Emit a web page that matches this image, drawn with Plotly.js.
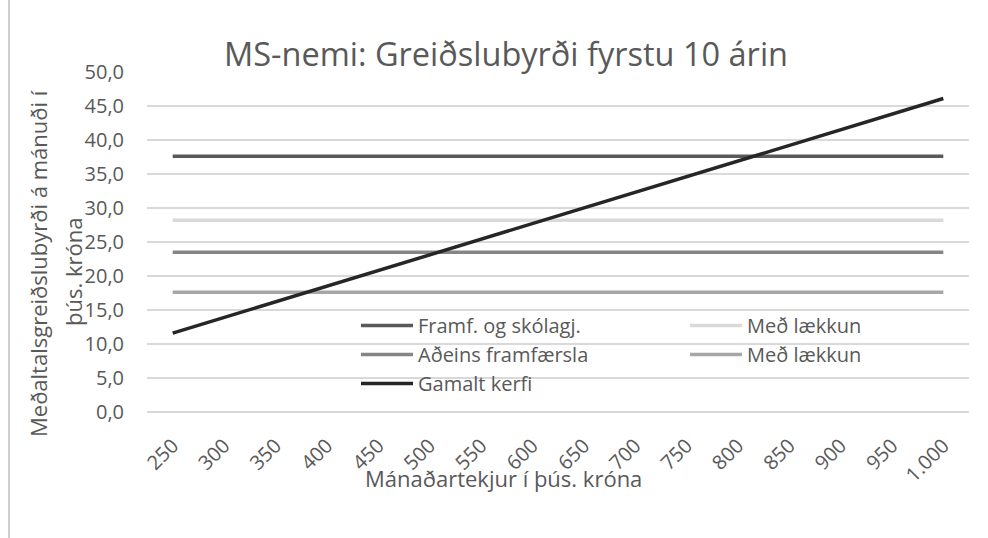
<!DOCTYPE html>
<html>
<head>
<meta charset="utf-8">
<script src="https://cdn.plot.ly/plotly-3.0.1.min.js"></script>
<style>html,body{margin:0;padding:0;background:#fff;}#chart{width:988px;height:538px;}</style>
</head>
<body>
<div id="chart"></div>
<script>
// Data
var incomeLabels = ['250','300','350','400','450','500','550','600','650','700','750','800','850','900','950','1.000'];
var framfOgSkolagj = [37.6,37.6,37.6,37.6,37.6,37.6,37.6,37.6,37.6,37.6,37.6,37.6,37.6,37.6,37.6,37.6];
var medLaekkun1 = [28.2,28.2,28.2,28.2,28.2,28.2,28.2,28.2,28.2,28.2,28.2,28.2,28.2,28.2,28.2,28.2];
var adeinsFramfaersla = [23.5,23.5,23.5,23.5,23.5,23.5,23.5,23.5,23.5,23.5,23.5,23.5,23.5,23.5,23.5,23.5];
var medLaekkun2 = [17.6,17.6,17.6,17.6,17.6,17.6,17.6,17.6,17.6,17.6,17.6,17.6,17.6,17.6,17.6,17.6];
var gamaltKerfi = [11.6,13.9,16.2,18.5,20.8,23.1,25.4,27.7,30.0,32.3,34.6,36.9,39.2,41.5,43.8,46.1];
var seriesNames = ['Framf. og skólagj.','Með lækkun','Aðeins framfærsla','Með lækkun','Gamalt kerfi'];
var seriesColors = ['#595959','#d9d9d9','#858585','#a6a6a6','#262626'];

var FONT = 'Open Sans, sans-serif';
var TXT = '#595959';

var allSeries = [framfOgSkolagj, medLaekkun1, adeinsFramfaersla, medLaekkun2, gamaltKerfi];
var traces = allSeries.map(function(vals, i){
  return {
    type: 'scatter', mode: 'lines',
    x: incomeLabels, y: vals,
    name: seriesNames[i],
    line: {color: seriesColors[i], width: 3.5},
    hoverinfo: 'x+y+name'
  };
});

var W = 988, H = 538, L = 147, R = 19, T = 72, B = 126;
var pw = W - L - R, ph = H - T - B;
function px2x(p){ return (p - L) / pw; }
function py2y(p){ return (H - B - p) / ph; }

var layout = {
  width: W, height: H,
  margin: {l: L, r: R, t: T, b: B, pad: 0, autoexpand: false},
  paper_bgcolor: '#ffffff', plot_bgcolor: '#ffffff',
  separators: ',.',
  font: {family: FONT, color: TXT, size: 20},
  title: {
    text: 'MS-nemi: Greiðslubyrði fyrstu 10 árin',
    font: {family: FONT, size: 32.5, color: TXT},
    xref: 'container', x: 506 / W, xanchor: 'center',
    yref: 'container', y: 1 - 55 / H, yanchor: 'middle'
  },
  xaxis: {
    type: 'category',
    range: [-0.5, 15.5],
    showgrid: false, zeroline: false, showline: false,
    ticks: '', tickangle: -45,
    tickfont: {family: FONT, size: 20, color: TXT},
    ticklabelstandoff: 17,
    automargin: false,
    fixedrange: true
  },
  yaxis: {
    range: [0, 50], dtick: 5, tick0: 0,
    tickformat: '.1f',
    showgrid: true, gridcolor: '#d9d9d9', gridwidth: 1.3,
    zeroline: true, zerolinecolor: '#d9d9d9', zerolinewidth: 1.3,
    showline: false, ticks: '',
    tickfont: {family: FONT, size: 20, color: TXT},
    ticklabelstandoff: 22,
    automargin: false,
    fixedrange: true
  },
  legend: {
    orientation: 'h',
    x: px2x(356), xanchor: 'left',
    y: py2y(306), yanchor: 'top',
    bgcolor: 'rgba(0,0,0,0)',
    font: {family: FONT, size: 20, color: TXT},
    itemwidth: 52,
    entrywidth: 262, entrywidthmode: 'pixels',
    traceorder: 'normal'
  },
  annotations: [
    {
      text: 'Meðaltalsgreiðslubyrði á mánuði í',
      xref: 'paper', yref: 'paper', x: px2x(38), y: py2y(264),
      xanchor: 'center', yanchor: 'middle', textangle: -90, showarrow: false,
      font: {family: FONT, size: 22, color: TXT}
    },
    {
      text: 'þús. króna',
      xref: 'paper', yref: 'paper', x: px2x(73), y: py2y(272),
      xanchor: 'center', yanchor: 'middle', textangle: -90, showarrow: false,
      font: {family: FONT, size: 22, color: TXT}
    },
    {
      text: 'Mánaðartekjur í þús. króna',
      xref: 'paper', yref: 'paper', x: px2x(503), y: py2y(478),
      xanchor: 'center', yanchor: 'middle', showarrow: false,
      font: {family: FONT, size: 22, color: TXT}
    }
  ],
  shapes: [
    {type: 'line', xref: 'paper', yref: 'paper',
     x0: px2x(9), x1: px2x(9), y0: py2y(0), y1: py2y(H),
     line: {color: '#bfbfbf', width: 1.5}}
  ]
};

Plotly.newPlot('chart', traces, layout, {displayModeBar: false, staticPlot: true});
</script>
</body>
</html>
